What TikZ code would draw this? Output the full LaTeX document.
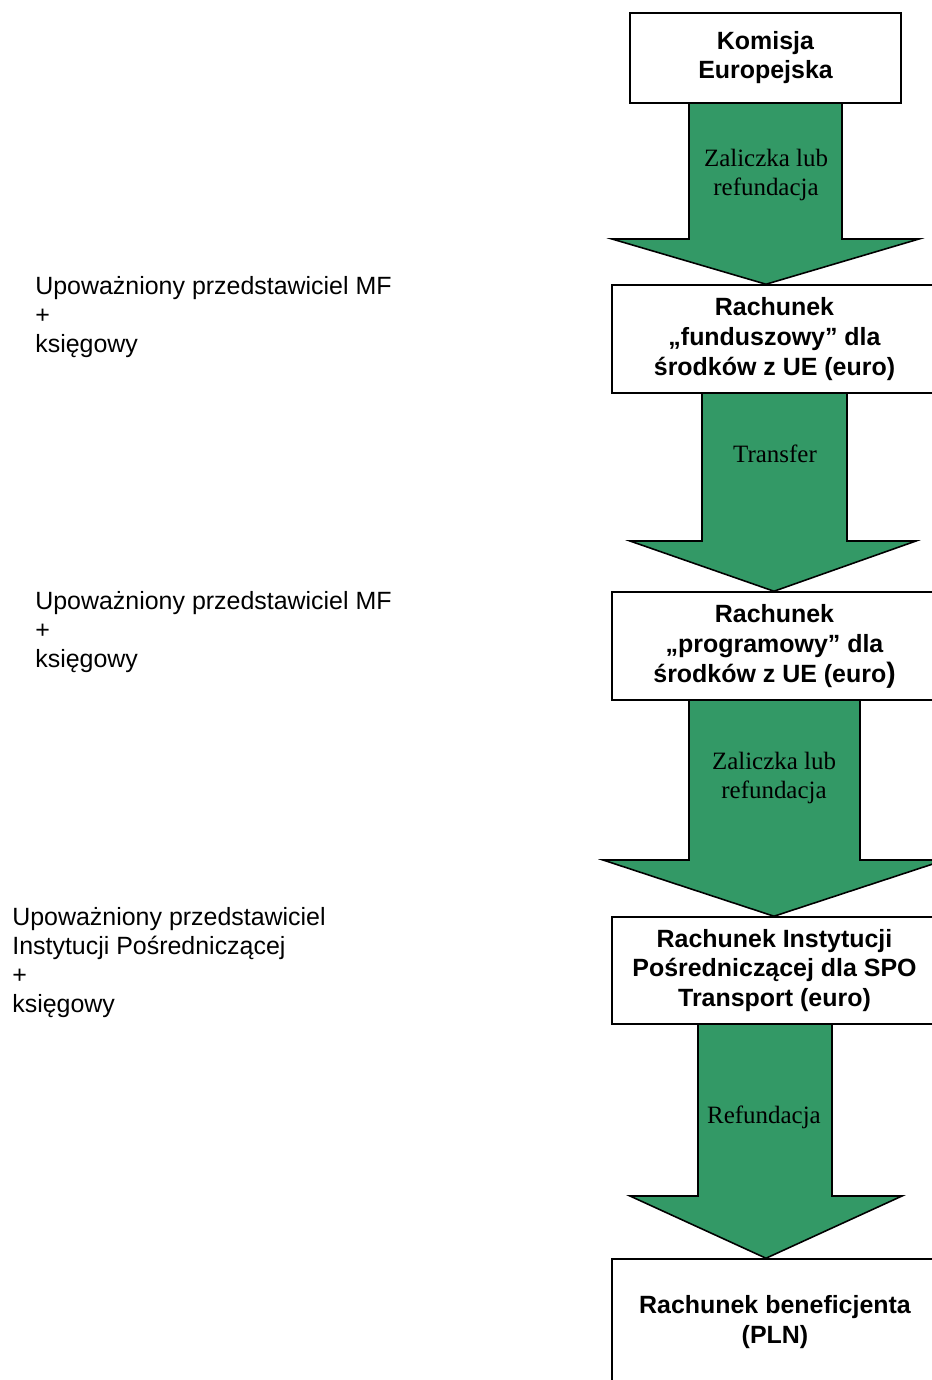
\documentclass[tikz,border=0pt]{standalone}
\usepackage{fontspec}
\setmainfont{Liberation Sans}
\newfontfamily\serifLabel{Liberation Serif}
\usetikzlibrary{backgrounds}
\definecolor{fundGreen}{RGB}{51,153,102}
\tikzset{
    accountBox/.style={
        ,   rectangle
        ,   draw=black
        ,   fill=white
        ,   line width=0.9pt
        ,   align=center
        ,   inner sep=0pt
        ,   font={\fontsize{14.2pt}{17pt}\selectfont\bfseries}
    },
    transferArrow/.style={
        ,   draw=black
        ,   fill=fundGreen
        ,   line width=0.9pt
        ,   line join=miter
    },
    arrowLabel/.style={
        ,   align=center
        ,   inner sep=0pt
        ,   font={\fontsize{14.2pt}{17pt}\selectfont\serifLabel}
    },
    personText/.style={
        ,   anchor=west
        ,   align=left
        ,   inner sep=0pt
        ,   font={\fontsize{14.2pt}{16.5pt}\selectfont}
    }
}
% from, to, shaft left, shaft right, head left, head right, head base, tip x
\newcommand{\blockArrow}[8]{%
    \filldraw[transferArrow] (#3,0 |- #1.south) -- (#3,#7) -- (#5,#7)
        -- (#8,0 |- #2.north) -- (#6,#7) -- (#4,#7) -- (#4,0 |- #1.south);
}
\begin{document}
\begin{tikzpicture}[x=0.02cm,y=-0.02cm]
		\useasboundingbox (0,0) rectangle (932,1380);
		\clip (0,0) rectangle (932,1380);
		
		\node[accountBox, minimum width=5.42cm, minimum height=1.8cm] (komisja) at (765.5,58) {Komisja\\Europejska\\[-13.5pt]\mbox{}};
		\node[accountBox, minimum width=6.5cm, minimum height=2.16cm] (funduszowy) at (774.5,339) {Rachunek\\„funduszowy” dla\\środków z UE (euro)};
		\node[accountBox, minimum width=6.5cm, minimum height=2.16cm] (programowy) at (774.5,646) {Rachunek\\„programowy” dla\\środków z UE (euro{\fontsize{16pt}{17pt}\selectfont)}};
		\node[accountBox, minimum width=6.5cm, minimum height=2.14cm] (instytucja) at (774.5,970.5) {Rachunek Instytucji\\Pośredniczącej dla SPO\\Transport (euro)};
		\node[accountBox, minimum width=6.52cm, minimum height=2.52cm] (beneficjent) at (775,1322) {Rachunek beneficjenta\\(PLN)};
		
		\begin{scope}[on background layer]
			\blockArrow{komisja}{funduszowy}{689}{842}{612}{919}{239}{766}
			\blockArrow{funduszowy}{programowy}{702}{847}{630}{916}{541}{774}
			\blockArrow{programowy}{instytucja}{689}{860}{603}{945}{860}{774}
			\blockArrow{instytucja}{beneficjent}{698}{832}{630}{902}{1196}{766}
		\end{scope}
		
		\node[arrowLabel] (zaliczka1) at (766,175) {Zaliczka lub\\refundacja};
		\node[arrowLabel] (transfer) at (775,454) {Transfer};
		\node[arrowLabel] (zaliczka2) at (774,778) {Zaliczka lub\\refundacja};
		\node[arrowLabel] (refundacja) at (764,1117) {Refundacja};
		
		\node[personText] (mfText1) at (35,317) {Upoważniony przedstawiciel MF\\+\\księgowy};
		\node[personText] (mfText2) at (35,632) {Upoważniony przedstawiciel MF\\+\\księgowy};
		\node[personText] (ipText) at (12,962.5) {Upoważniony przedstawiciel\\Instytucji Pośredniczącej\\+\\księgowy};
\end{tikzpicture}
\end{document}
